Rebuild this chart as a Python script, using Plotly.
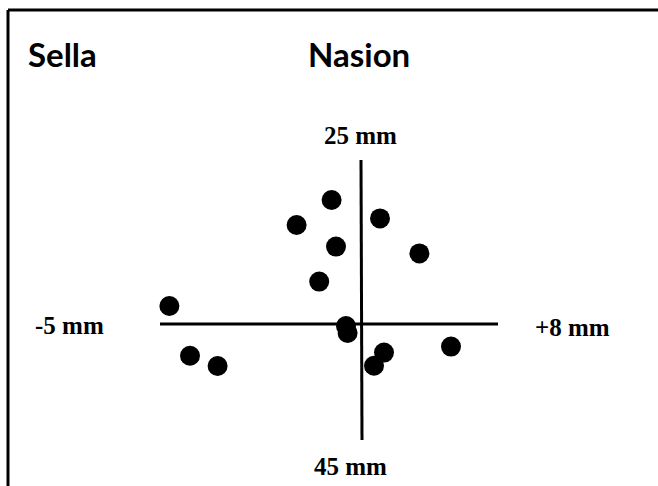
import plotly.graph_objects as go

# Scatter points (relative to the cross origin, arbitrary units)
x_vals = [-1.42, 1.00, -3.17, -1.20, 2.97, -2.04, -9.53, -0.70, -0.62, -8.50, -7.12, 1.20, 0.70, 4.55]
y_vals = [6.20, 5.28, 4.95, 3.87, 3.53, 2.12, 0.90, -0.10, -0.45, -1.59, -2.10, -1.43, -2.09, -1.13]

# Cross-hair axis extents
h_axis_x = [-10.0, 6.9]
v_axis_y = [8.2, -5.8]

titles = ["Sella", "Nasion"]
axis_labels = ["25 mm", "45 mm", "-5 mm", "+8 mm"]

W, H = 658, 486
X0, Y0, S = 360, 324, 20  # pixel origin and px per unit


def px_x(p):
    return p / W


def px_y(p):
    return 1 - p / H


fig = go.Figure()

fig.add_trace(go.Scatter(x=h_axis_x, y=[0, 0], mode="lines",
                         line=dict(color="black", width=3), hoverinfo="skip"))
fig.add_trace(go.Scatter(x=[0.05, 0.1], y=v_axis_y, mode="lines",
                         line=dict(color="black", width=3), hoverinfo="skip"))
fig.add_trace(go.Scatter(x=x_vals, y=y_vals, mode="markers",
                         marker=dict(color="black", size=20, line=dict(width=0))))

annotations = [
    dict(text=f"<b>{titles[0]}</b>", x=px_x(26), y=px_y(54), xanchor="left", yanchor="middle",
         font=dict(family="Lato", size=33, color="black")),
    dict(text=f"<b>{titles[1]}</b>", x=px_x(306), y=px_y(54), xanchor="left", yanchor="middle",
         font=dict(family="Lato", size=33, color="black")),
    dict(text=f"<b>{axis_labels[0]}</b>", x=px_x(360), y=px_y(135), xanchor="center", yanchor="middle",
         font=dict(family="Liberation Serif", size=25, color="black")),
    dict(text=f"<b>{axis_labels[1]}</b>", x=px_x(350), y=px_y(466), xanchor="center", yanchor="middle",
         font=dict(family="Liberation Serif", size=25, color="black")),
    dict(text=f"<b>{axis_labels[2]}</b>", x=px_x(33), y=px_y(325), xanchor="left", yanchor="middle",
         font=dict(family="Liberation Serif", size=25, color="black")),
    dict(text=f"<b>{axis_labels[3]}</b>", x=px_x(533), y=px_y(327), xanchor="left", yanchor="middle",
         font=dict(family="Liberation Serif", size=25, color="black")),
]
for a in annotations:
    a.update(xref="paper", yref="paper", showarrow=False)

shapes = [
    dict(type="line", xref="paper", yref="paper", x0=px_x(8), x1=1.01, y0=px_y(10), y1=px_y(10),
         line=dict(color="black", width=3)),
    dict(type="line", xref="paper", yref="paper", x0=px_x(8), x1=px_x(8), y0=px_y(10), y1=-0.01,
         line=dict(color="black", width=3)),
]

fig.update_layout(
    width=W, height=H,
    margin=dict(l=0, r=0, t=0, b=0),
    paper_bgcolor="white", plot_bgcolor="white",
    showlegend=False,
    xaxis=dict(range=[(0 - X0) / S, (W - X0) / S], visible=False, fixedrange=True),
    yaxis=dict(range=[(Y0 - H) / S, Y0 / S], visible=False, fixedrange=True),
    annotations=annotations,
    shapes=shapes,
)

fig.write_html("out.html",
               config={"displayModeBar": False, "staticPlot": True},
               post_script="document.body.style.margin='0';document.body.style.overflow='hidden';")
